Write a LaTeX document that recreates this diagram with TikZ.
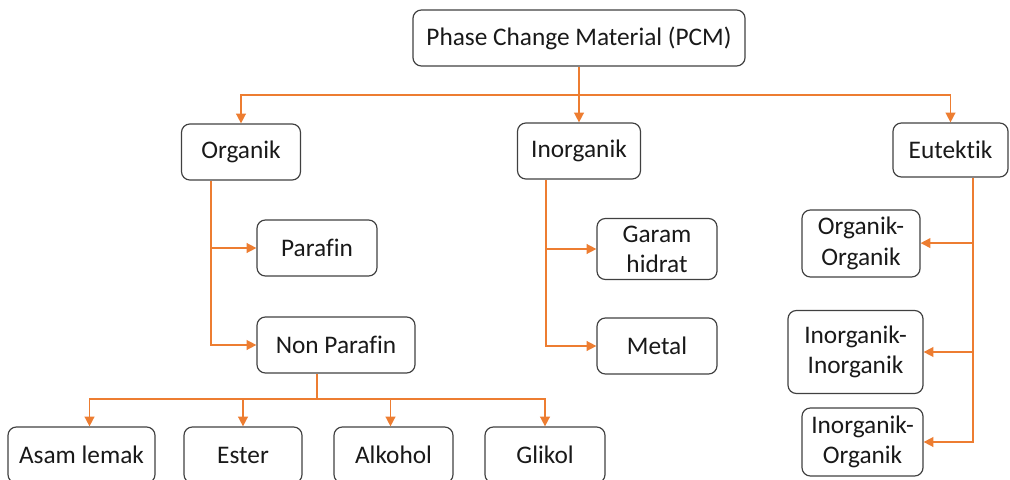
\documentclass[tikz,border=0pt]{standalone}
\usepackage{fontspec}
\setmainfont{Carlito}[Ligatures=NoCommon]
\usetikzlibrary{arrows.meta}
\definecolor{linkorange}{RGB}{237,125,49}
\definecolor{boxgray}{RGB}{64,64,64}
\begin{document}
\begin{tikzpicture}[x=0.025cm,y=-0.025cm,
    box/.style={draw=boxgray,line width=0.85pt,rounded corners=6pt,align=center,
      inner sep=2pt,minimum height=1.4cm,text=black!90,font=\fontsize{18}{21.5}\selectfont},
    link/.style={draw=linkorange,line width=1.1pt,-{Triangle[length=7pt,width=7pt]}}]
  \useasboundingbox (0,0) rectangle (1010,479);
  \clip (0,0) rectangle (1010,479);
  % top and first level
  \node[box,minimum width=8.3cm]   (PCM)   at (579,38)  {Phase Change Material (PCM)};
  \node[box,minimum width=2.975cm] (Org)   at (241,152) {Organik};
  \node[box,minimum width=3.075cm] (Inorg) at (579,151) {Inorganik};
  \node[box,minimum width=2.875cm,minimum height=1.35cm] (Eut) at (950.5,150) {Eutektik};
  % organik
  \node[box,minimum width=3cm]    (Par)    at (317,248) {Parafin};
  \node[box,minimum width=3.95cm] (NonPar) at (336,345) {Non Parafin};
  % inorganik
  \node[box,minimum width=3cm,minimum height=1.525cm] (Garam) at (657,249) {Garam\\hidrat};
  \node[box,minimum width=3cm] (Metal) at (657,346) {Metal};
  % eutektik
  \node[box,minimum width=2.95cm,minimum height=1.675cm]  (OrgOrg)   at (861,243.5) {Organik-\\Organik};
  \node[box,minimum width=3.375cm,minimum height=2.075cm] (InorgInorg) at (855.5,352) {Inorganik-\\Inorganik};
  \node[box,minimum width=3.025cm,minimum height=1.7cm]   (InorgOrg) at (862.5,442) {Inorganik-\\Organik};
  % non parafin
  \node[box,minimum width=3.675cm] (Asam)    at (81.5,455) {Asam lemak};
  \node[box,minimum width=2.95cm]  (Ester)   at (243,455)  {Ester};
  \node[box,minimum width=2.975cm] (Alkohol) at (393.5,455) {Alkohol};
  \node[box,minimum width=3cm]     (Glikol)  at (545,455)  {Glikol};
  % connectors
  \coordinate (bus) at (579,95);
  \draw[link] (PCM.south) -- (Inorg.north);
  \draw[link] (bus) -| (Org.north);
  \draw[link] (bus) -| (Eut.north);
  \draw[link] ([xshift=-0.75cm]Org.south) |- (Par.west);
  \draw[link] ([xshift=-0.75cm]Org.south) |- (NonPar.west);
  \draw[link] ([xshift=-0.825cm]Inorg.south) |- (Garam.west);
  \draw[link] ([xshift=-0.825cm]Inorg.south) |- (Metal.west);
  \draw[link] ([xshift=0.5625cm]Eut.south) |- ([yshift=0.3pt]OrgOrg.east);
  \draw[link] ([xshift=0.5625cm]Eut.south) |- (InorgInorg.east);
  \draw[link] ([xshift=0.5625cm]Eut.south) |- (InorgOrg.east);
  \coordinate (npbus) at (317,399);
  \draw[draw=linkorange,line width=1.1pt] (NonPar.south -| npbus) -- (npbus);
  \draw[link] (npbus) -| ([xshift=0.2cm]Asam.north);
  \draw[link] (npbus) -| (Ester.north);
  \draw[link] (npbus) -| ([xshift=-0.075cm]Alkohol.north);
  \draw[link] (npbus) -| (Glikol.north);
\end{tikzpicture}
\end{document}
